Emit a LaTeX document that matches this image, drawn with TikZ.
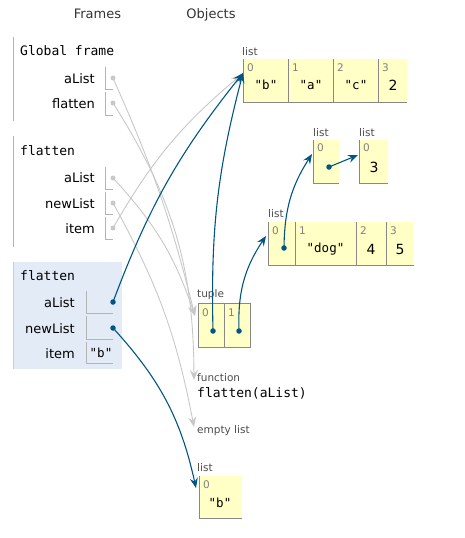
\documentclass[tikz,border=0pt]{standalone}
\usepackage{fontspec}
\setmainfont{DejaVu Sans}
\setmonofont{DejaVu Sans Mono}
\usetikzlibrary{arrows.meta}
\definecolor{ptblue}{HTML}{005583}
\definecolor{ptgray}{HTML}{C8C8C8}
\definecolor{heap}{HTML}{FFFFC6}
\definecolor{hiframe}{HTML}{E2EBF6}
\definecolor{hibar}{HTML}{C2CFE0}
\definecolor{cellline}{HTML}{888888}
\definecolor{barline}{HTML}{B4B4B4}
\tikzset{
  hdr/.style={font=\fontsize{13}{15}\selectfont, text=black!80, inner sep=0, anchor=base},
  ftitle/.style={font=\ttfamily\fontsize{13}{15}\selectfont, anchor=west, inner sep=0},
  vname/.style={font=\fontsize{13}{15}\selectfont, anchor=east, inner sep=0},
  tlabel/.style={font=\fontsize{10.5}{12}\selectfont, text=black!70, anchor=base west, inner sep=0},
  idx/.style={font=\fontsize{10.5}{12}\selectfont, text=black!50, anchor=west, inner sep=0},
  numval/.style={font=\fontsize{14}{16}\selectfont, inner sep=0},
  strval/.style={font=\ttfamily\fontsize{12.5}{14}\selectfont, inner sep=0},
  funcval/.style={font=\ttfamily\fontsize{13}{15}\selectfont, anchor=base west, inner sep=0},
  cellborder/.style={draw=cellline, line width=0.9pt},
  vbox/.style={draw=barline, line width=0.8pt},
  framebar/.style={draw=barline, line width=0.9pt},
  bluedot/.style={circle, fill=ptblue, inner sep=0, minimum size=5.5pt},
  graydot/.style={circle, fill=ptgray, inner sep=0, minimum size=5pt},
  bluearrow/.style={draw=ptblue, line width=1.1pt, -{Stealth[length=10pt,width=8pt,inset=3.5pt]}},
  grayarrow/.style={draw=ptgray, line width=0.9pt, -{Stealth[length=10pt,width=8pt,inset=3.5pt]}},
}
\begin{document}
\begin{tikzpicture}[x=1pt,y=1pt]
\useasboundingbox (0,0) rectangle (465,-538);
% headers
\node[hdr] (hF) at (97.5,-19) {Frames};
\node[hdr] (hO) at (211,-19) {Objects};

% ---------- Global frame
\draw[framebar] (13,-37) -- (13,-121);
\node[ftitle] (gT) at (20,-51) {Global frame};
\node[vname] (gAn) at (95,-78.5) {aList};
\node[vname] (gFn) at (95,-104) {flatten};
\draw[vbox] (105,-67) -- (105,-89) -- (113,-89);
\draw[vbox] (105,-92) -- (105,-115) -- (113,-115);
\node[graydot] (gA) at (113,-78) {};
\node[graydot] (gF) at (113,-103) {};

% ---------- flatten frame 1
\draw[framebar] (13,-136) -- (13,-247);
\node[ftitle] (f1T) at (20,-150.5) {flatten};
\node[vname] (f1An) at (95,-178) {aList};
\node[vname] (f1Nn) at (95,-204) {newList};
\node[vname] (f1In) at (95,-229) {item};
\draw[vbox] (105,-167) -- (105,-189) -- (113,-189);
\draw[vbox] (105,-192) -- (105,-214) -- (113,-214);
\draw[vbox] (105,-217) -- (105,-239) -- (113,-239);
\node[graydot] (f1A) at (113,-178) {};
\node[graydot] (f1N) at (113,-203) {};
\node[graydot] (f1I) at (113,-228) {};

% ---------- flatten frame 2 (highlighted)
\fill[hiframe] (13,-262) rectangle (122,-369);
\draw[draw=hibar, line width=0.9pt] (13,-262) -- (13,-369);
\node[ftitle] (f2T) at (20,-275.5) {flatten};
\node[vname] (f2An) at (75,-303) {aList};
\node[vname] (f2Nn) at (75,-328.5) {newList};
\node[vname] (f2In) at (75,-353.5) {item};
\draw[vbox] (86,-291) -- (86,-313) -- (113,-313);
\draw[vbox] (86,-316) -- (86,-339) -- (113,-339);
\draw[vbox] (86,-342) -- (86,-363) -- (113,-363);
\node[strval] (f2Iv) at (101,-353) {"b"};

% ---------- list ["b","a","c",2]
\node[tlabel] (L1lab) at (242,-55) {list};
\fill[heap] (243,-59) rectangle (407,-102);
\draw[cellborder] (243,-59) -- (243,-102) -- (407,-102);
\foreach \xx in {288,333,378} \draw[cellborder] (\xx,-59) -- (\xx,-102);
\node[idx] (L1i0) at (247,-68) {0};
\node[idx] (L1i1) at (292,-68) {1};
\node[idx] (L1i2) at (337,-68) {2};
\node[idx] (L1i3) at (382,-68) {3};
\node[strval] (L1v0) at (266,-85) {"b"};
\node[strval] (L1v1) at (311,-85) {"a"};
\node[strval] (L1v2) at (356,-85) {"c"};
\node[numval] (L1v3) at (393,-85) {2};
\coordinate (L1tip) at (243,-73);
\coordinate (L1tipg) at (241,-75);

% ---------- list [ [3] ]
\node[tlabel] (L2lab) at (313,-136) {list};
\fill[heap] (313,-140) rectangle (339,-183);
\draw[cellborder] (313,-140) -- (313,-183) -- (339,-183);
\node[idx] (L2i0) at (317,-148) {0};
\node[bluedot] (L2d) at (329,-167) {};
\coordinate (L2tip) at (312,-154);

% ---------- list [3]
\node[tlabel] (L3lab) at (359,-136) {list};
\fill[heap] (359,-140) rectangle (388,-183);
\draw[cellborder] (359,-140) -- (359,-183) -- (388,-183);
\node[idx] (L3i0) at (363,-148) {0};
\node[numval] (L3v0) at (374,-167) {3};
\coordinate (L3tip) at (358,-155);

% ---------- list [ . , "dog", 4, 5]
\node[tlabel] (L4lab) at (268,-217) {list};
\fill[heap] (268,-222) rectangle (414,-265);
\draw[cellborder] (268,-222) -- (268,-265) -- (414,-265);
\foreach \xx in {295,356,386} \draw[cellborder] (\xx,-222) -- (\xx,-265);
\node[idx] (L4i0) at (272,-231) {0};
\node[idx] (L4i1) at (299,-231) {1};
\node[idx] (L4i2) at (360,-231) {2};
\node[idx] (L4i3) at (390,-231) {3};
\node[bluedot] (L4d) at (284,-248) {};
\node[strval] (L4v1) at (325.5,-249) {"dog"};
\node[numval] (L4v2) at (371,-249) {4};
\node[numval] (L4v3) at (400,-249) {5};
\coordinate (L4tip) at (266,-236);

% ---------- tuple
\node[tlabel] (Tlab) at (197,-297) {tuple};
\fill[heap] (198,-303) rectangle (250,-347);
\draw[cellborder] (198,-303) rectangle (250,-347);
\draw[cellborder] (224,-303) -- (224,-347);
\node[idx] (Ti0) at (202,-313) {0};
\node[idx] (Ti1) at (228,-313) {1};
\node[bluedot] (T0) at (213,-331) {};
\node[bluedot] (T1) at (239,-331) {};
\coordinate (Ttip) at (195,-316);

% ---------- function
\node[tlabel] (Flab) at (197,-381) {function};
\node[funcval] (Fval) at (197,-397) {flatten(aList)};
\coordinate (Ftip) at (194,-380);

% ---------- empty list
\node[tlabel] (Elab) at (197,-433) {empty list};
\coordinate (Etip) at (194,-427);

% ---------- list ["b"]
\node[tlabel] (L5lab) at (197,-471) {list};
\fill[heap] (199,-476) rectangle (242,-518);
\draw[cellborder] (199,-476) -- (199,-518) -- (242,-518);
\node[idx] (L5i0) at (203,-485) {0};
\node[strval] (L5v0) at (220,-503) {"b"};
\coordinate (L5tip) at (196,-488);

% ---------- gray pointers
\draw[grayarrow] (gA.center) to[bend left=5] (Ttip);
\draw[grayarrow] (gF.center) to[bend left=16] (Ftip);
\draw[grayarrow] (f1A.center) to[bend left=12] (Ttip);
\draw[grayarrow] (f1N.center) to[bend left=9] (Etip);
\draw[grayarrow] (f1I.center) to[bend left=10] (L1tipg);

% ---------- blue pointers
\node[bluedot] (f2A) at (113,-302) {};
\node[bluedot] (f2N) at (113,-328) {};
\draw[bluearrow] (f2A.center) to[bend left=9] (L1tip);
\draw[bluearrow] (f2N.center) to[bend left=15] (L5tip);
\draw[bluearrow] (T0.center) to[bend left=8] (L1tip);
\draw[bluearrow] (T1.center) to[bend left=18] (L4tip);
\draw[bluearrow] (L4d.center) to[bend left=16] (L2tip);
\draw[bluearrow] (L2d.center) -- (L3tip);
\end{tikzpicture}
\end{document}
